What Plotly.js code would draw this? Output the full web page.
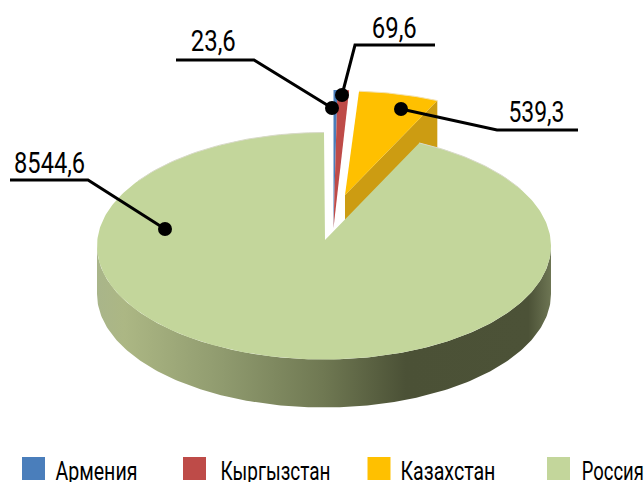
<!DOCTYPE html>
<html><head><meta charset="utf-8">
<script src="https://cdn.plot.ly/plotly-3.0.1.min.js"></script>
<style>html,body{margin:0;padding:0;background:#fff;overflow:hidden}#chart{width:644px;height:482px}</style>
</head><body><div id="chart"></div>
<script>
const categories = ['Армения','Кыргызстан','Казахстан','Россия'];
const values = [23.6, 69.6, 539.3, 8544.6];
const valueLabels = ['23,6','69,6','539,3','8544,6'];
const colors = ['#4a7ebb','#be4b48','#ffc000','#c3d69b'];

const FONT = 'Roboto,"DejaVu Sans",sans-serif';
const DEPTH = 48;
// projected pie geometry (axis units = pixels of the 644x482 frame)
const sliceGeom = [
  {apex:[333.5,228], cx:333.5, cy:228, rx:245, ry:138},
  {apex:[333.5,228], cx:333.5, cy:228, rx:245, ry:138},
  {apex:[345,195], cx:345, cy:195, rx:220, ry:104},
  {apex:[325,240], cx:324, cy:246, rx:227, ry:113.5}
];
// leader: label anchor, elbow path, dot is the last point
const leaders = [
  {lx:213.5,ly:41, w:45, path:[[176,60],[254,60],[332,108]]},
  {lx:394.5,ly:28, w:45, path:[[435,45],[355,45],[342,95]]},
  {lx:536,ly:112,w:56, path:[[578,130],[497,130],[401,109]]},
  {lx:49.5, ly:163,w:71, path:[[10,180],[88,180],[165,229]]}
];
const legendSwatchX = [33.5,194.5,379,558.5];
const legendTextX = [96,275,447.5,613];
const legendTextW = [82,110,95,62];
const legendSwatchY = 468.5;
const legendTextY = 471;

const total = values.reduce((a,b)=>a+b,0);
let acc = 0;
const ranges = values.map(v=>{const s=acc; acc+=v/total*360; return [s,acc];});
const pt=(g,t,dy=0)=>{const r=t*Math.PI/180;return [g.cx+g.rx*Math.sin(r), g.cy-g.ry*Math.cos(r)+dy];};
function arc(g,a,b,dy=0){const n=Math.max(2,Math.ceil(Math.abs(b-a)));const o=[];for(let i=0;i<=n;i++)o.push(pt(g,a+(b-a)*i/n,dy));return o;}
function poly(points,fill,extra){
  return Object.assign({type:'scatter',mode:'lines',x:points.map(p=>p[0]),y:points.map(p=>p[1]),fill:'toself',
    fillcolor:fill,line:{width:0,color:fill},hoverinfo:'skip',showlegend:false},extra||{});
}
function rim(points,color){
  return {type:'scatter',mode:'lines',x:points.map(p=>p[0]),y:points.map(p=>p[1]),line:{width:1,color:color},hoverinfo:'skip',showlegend:false};
}
const traces=[];
// Russia side wall
const gR=sliceGeom[3];
const wall=arc(gR,90,270,0).concat(arc(gR,270,90,DEPTH));
traces.push(poly(wall,'#6f7852',{fillgradient:{type:'horizontal',start:97,stop:551,
  colorscale:[[0,'#a9b58a'],[0.06,'#acb784'],[0.28,'#8f9a6e'],[0.5,'#6f7852'],[0.68,'#4b5136'],[0.95,'#4c5237'],[1,'#6d7553']]}}));
// Kazakhstan wedge side + top
const gK=sliceGeom[2];
const kEnd=pt(gK,ranges[2][1]);
traces.push(poly([gK.apex,kEnd,[kEnd[0],kEnd[1]+DEPTH],[gK.apex[0],gK.apex[1]+DEPTH]],'#cc9c12'));
traces.push(poly([gK.apex].concat(arc(gK,ranges[2][0],ranges[2][1])),colors[2]));
traces.push(rim(arc(gK,ranges[2][0],ranges[2][1]),'#f3e2b0'));
// Armenia and Kyrgyzstan
[0,1].forEach(i=>{const g=sliceGeom[i];traces.push(poly([g.apex].concat(arc(g,ranges[i][0],ranges[i][1])),colors[i]));});
// Russia top
traces.push(poly([gR.apex].concat(arc(gR,ranges[3][0],ranges[3][1])),colors[3]));
traces.push(rim(arc(gR,305,360),'#d8dac8'));
traces.push(rim(arc(gR,ranges[3][0],60),'#d8dac8'));
// leaders and dots
leaders.forEach(l=>{
  traces.push({type:'scatter',mode:'lines',x:l.path.map(p=>p[0]),y:l.path.map(p=>p[1]),line:{color:'#000',width:3},hoverinfo:'skip',showlegend:false});
  const d=l.path[l.path.length-1];
  traces.push({type:'scatter',mode:'markers',x:[d[0]],y:[d[1]],marker:{color:'#000',size:14},hoverinfo:'skip',showlegend:false});
});
// legend swatches
categories.forEach((c,i)=>traces.push({type:'scatter',mode:'markers',name:c,x:[legendSwatchX[i]],y:[legendSwatchY],
  marker:{symbol:'square',size:23,color:colors[i]},hoverinfo:'name',showlegend:false,cliponaxis:false}));

const annotations=[];
const widths=[];
leaders.forEach((l,i)=>{widths.push(l.w);annotations.push({x:l.lx,y:l.ly,xref:'x',yref:'y',text:valueLabels[i],showarrow:false,
  font:{family:FONT,size:29,color:'#000'},xanchor:'center',yanchor:'middle'});});
categories.forEach((c,i)=>{widths.push(legendTextW[i]);annotations.push({x:legendTextX[i],y:legendTextY,xref:'x',yref:'y',text:c,showarrow:false,
  font:{family:FONT,size:26,color:'#000'},xanchor:'center',yanchor:'middle'});});

Plotly.newPlot('chart',traces,{
  width:644,height:482,margin:{l:0,r:0,t:0,b:0},paper_bgcolor:'#fff',plot_bgcolor:'#fff',showlegend:false,
  xaxis:{range:[0,644],visible:false,fixedrange:true},
  yaxis:{range:[482,0],visible:false,fixedrange:true},
  annotations:annotations
},{displayModeBar:false,staticPlot:true}).then(gd=>{
  // condensed look: no narrow family is installed, so fit each real text to its width
  gd.querySelectorAll('.annotation-text').forEach((t,i)=>{
    t.setAttribute('textLength',widths[i]);
    t.setAttribute('lengthAdjust','spacingAndGlyphs');
  });
});
</script></body></html>
